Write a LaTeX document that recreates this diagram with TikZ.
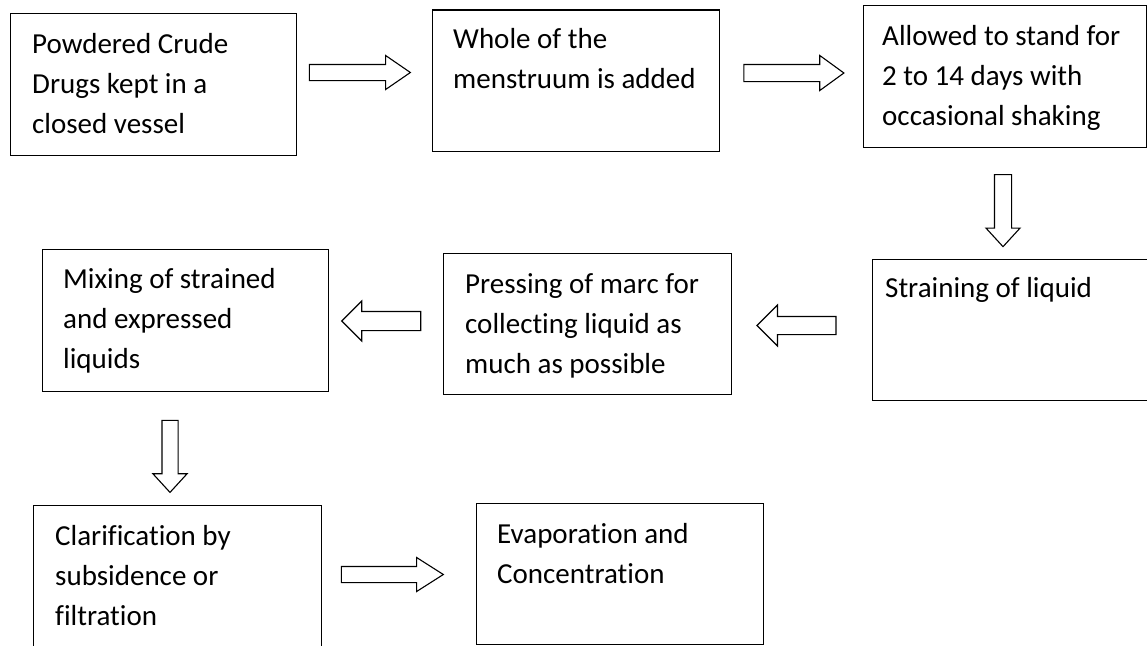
\documentclass[tikz,border=0pt]{standalone}
\usepackage{fontspec}
\setmainfont{Carlito}[Ligatures={NoCommon}]
\usetikzlibrary{shapes.arrows}
\newcommand\mysteplines[1]{\begin{tabular}[t]{@{}l@{}}#1\end{tabular}}
\tikzset{
  stepbox/.style={draw=black, line width=1.4pt, rectangle, inner sep=0pt, anchor=north west},
  steptext/.style={inner sep=0pt, anchor=base west, font=\fontsize{29}{40}\selectfont},
  blockarrow/.style 2 args={draw=black, line width=1.1pt, single arrow, inner xsep=0pt,
    inner ysep=#1, single arrow head extend=#2, minimum width=0pt},
}
\begin{document}
\begin{tikzpicture}[x=1pt,y=-1pt]
\useasboundingbox (0,0) rectangle (1147,645);
\clip (0,0) rectangle (1147,645);
% boxes
\node[stepbox, minimum width=286.5pt, minimum height=142pt] (b1) at (9.5,13) {};
\node[stepbox, minimum width=287pt, minimum height=141.5pt] (b2) at (432,9.3) {};
\node[stepbox, minimum width=283pt, minimum height=142pt] (b3) at (863,5) {};
\node[stepbox, minimum width=287pt, minimum height=141pt] (b4) at (872,259) {};
\node[stepbox, minimum width=288pt, minimum height=141pt] (b5) at (443,253) {};
\node[stepbox, minimum width=286pt, minimum height=142pt] (b6) at (42,249) {};
\node[stepbox, minimum width=288pt, minimum height=160pt] (b7) at (33,505) {};
\node[stepbox, minimum width=287pt, minimum height=141pt] (b8) at (476,503) {};
% texts
\node[steptext] (t1) at (32,53) {\mysteplines{Powdered Crude\\Drugs kept in a\\closed vessel}};
\node[steptext] (t2) at (453,48) {\mysteplines{Whole of the\\menstruum is added}};
\node[steptext] (t3) at (882,45) {\mysteplines{Allowed to stand for\\2 to 14 days with\\occasional shaking}};
\node[steptext] (t4) at (885,297) {\mysteplines{Straining of liquid}};
\node[steptext] (t5) at (465,293) {\mysteplines{Pressing of marc for\\collecting liquid as\\much as possible}};
\node[steptext] (t6) at (63,288) {\mysteplines{Mixing of strained\\and expressed\\liquids}};
\node[steptext] (t7) at (55,545) {\mysteplines{Clarification by\\subsidence or\\filtration}};
\node[steptext] (t8) at (497,543) {\mysteplines{Evaporation and\\Concentration}};
% block arrows
\node[blockarrow={7.5pt}{9pt}, minimum height=101pt, single arrow tip angle=69] (a1) at (354,72.5) {};
\node[blockarrow={8pt}{9pt}, minimum height=100pt, single arrow tip angle=72] (a2) at (788,73) {};
\node[blockarrow={8pt}{8.5pt}, minimum height=72pt, single arrow tip angle=85, rotate=-90] (a3) at (1003,206) {};
\node[blockarrow={8.5pt}{11.5pt}, minimum height=79pt, single arrow tip angle=90, rotate=180] (a4) at (801,325.5) {};
\node[blockarrow={9pt}{10.5pt}, minimum height=79pt, single arrow tip angle=90, rotate=180] (a5) at (386,321) {};
\node[blockarrow={7.5pt}{9pt}, minimum height=72pt, single arrow tip angle=85, rotate=-90] (a6) at (170,452) {};
\node[blockarrow={7.5pt}{9pt}, minimum height=102pt, single arrow tip angle=65] (a7) at (386,574.5) {};
\end{tikzpicture}
\end{document}
